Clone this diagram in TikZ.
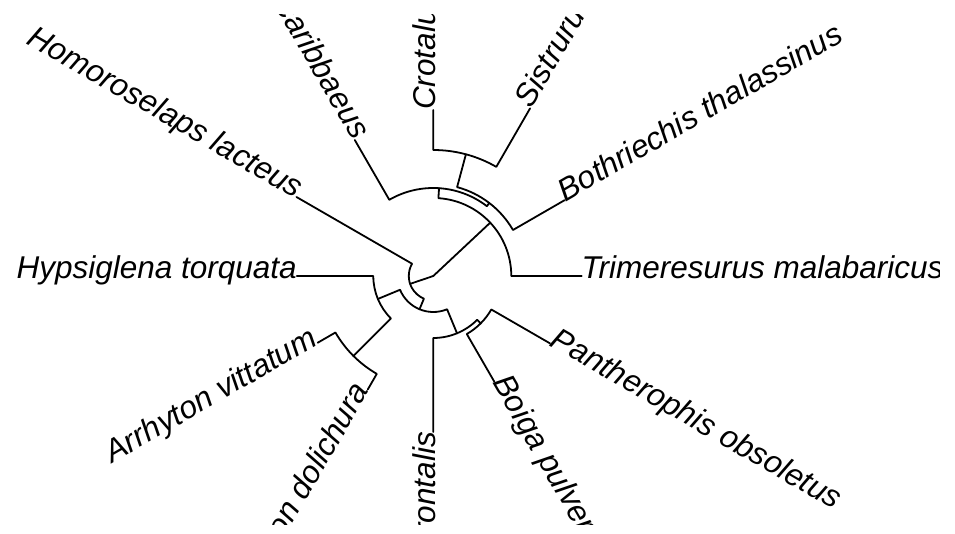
\documentclass[tikz,border=0pt]{standalone}
\usepackage{fontspec}
\setsansfont{Liberation Sans}
\begin{document}
\begin{tikzpicture}[
  x=1pt,y=1pt,
  br/.style={line width=1.8pt,line cap=round,line join=round},
  lab/.style={font=\fontsize{31.5}{38}\selectfont\sffamily\itshape,inner sep=0pt,outer sep=0pt},
  lr/.style={lab,anchor=mid west},
  ll/.style={lab,anchor=mid east}
]
\useasboundingbox (-433.3,-258) rectangle (521.7,276);
\clip (-418.3,-249) rectangle (505.7,261);
\coordinate (root) at (0,0);
\coordinate (V) at (43.125:78pt);
\coordinate (X) at (86.25:88pt);
\coordinate (W) at (52.5:92pt);
\coordinate (cs) at (75:126pt);
\coordinate (C) at (198.75:24.5pt);
\coordinate (R) at (247.5:36pt);
\coordinate (D) at (202.5:60pt);
\coordinate (AD) at (225:113pt);
\coordinate (E) at (292.5:62pt);
\coordinate (BP) at (315:67pt);
\coordinate (tri) at (0:148.4pt);
\coordinate (bth) at (30:151.7pt);
\coordinate (sis) at (60:193.6pt);
\coordinate (cro) at (90:166pt);
\coordinate (bca) at (120:157pt);
\coordinate (hom) at (150:158pt);
\coordinate (hyp) at (180:136.6pt);
\coordinate (arr) at (210:133.5pt);
\coordinate (dol) at (240:131pt);
\coordinate (fro) at (270:156pt);
\coordinate (boi) at (300:122pt);
\coordinate (pan) at (330:134.7pt);
\draw[br] (root) -- (V);
\draw[br] (root) -- (C);
\draw[br] (tri) -- (0:78pt) arc[start angle=0,end angle=86.25,radius=78pt] -- (X);
\draw[br] (W) -- (52.5:88pt) arc[start angle=52.5,end angle=120,radius=88pt] -- (bca);
\draw[br] (bth) -- (30:92pt) arc[start angle=30,end angle=75,radius=92pt] -- (cs);
\draw[br] (sis) -- (60:126pt) arc[start angle=60,end angle=90,radius=126pt] -- (cro);
\draw[br] (hom) -- (150:24.5pt) arc[start angle=150,end angle=247.5,radius=24.5pt] -- (R);
\draw[br] (D) -- (202.5:36pt) arc[start angle=202.5,end angle=292.5,radius=36pt] -- (E);
\draw[br] (hyp) -- (180:60pt) arc[start angle=180,end angle=225,radius=60pt] -- (AD);
\draw[br] (arr) -- (210:113pt) arc[start angle=210,end angle=240,radius=113pt] -- (dol);
\draw[br] (fro) -- (270:62pt) arc[start angle=270,end angle=315,radius=62pt] -- (BP);
\draw[br] (boi) -- (300:67pt) arc[start angle=300,end angle=330,radius=67pt] -- (pan);
\node[lr] (tri-l) at (tri) {Trimeresurus malabaricus};
\node[lr,rotate=30] (bth-l) at (bth) {Bothriechis thalassinus};
\node[lr,rotate=60] (sis-l) at (sis) {Sistrurus};
\node[lr,rotate=90] (cro-l) at (cro) {Crotalus};
\node[ll,rotate=-60] (bca-l) at (bca) {Bothrops caribbaeus};
\node[ll,rotate=-30] (hom-l) at (hom) {Homoroselaps lacteus};
\node[ll] (hyp-l) at (hyp) {Hypsiglena torquata};
\node[ll,rotate=30] (arr-l) at (arr) {Arrhyton vittatum};
\node[ll,rotate=60] (dol-l) at (dol) {on dolichura};
\node[ll,rotate=90] (fro-l) at (fro) {rontalis};
\node[lr,rotate=-60] (boi-l) at (boi) {Boiga pulverulenta};
\node[lr,rotate=-30] (pan-l) at (pan) {Pantherophis obsoletus};
\end{tikzpicture}
\end{document}
